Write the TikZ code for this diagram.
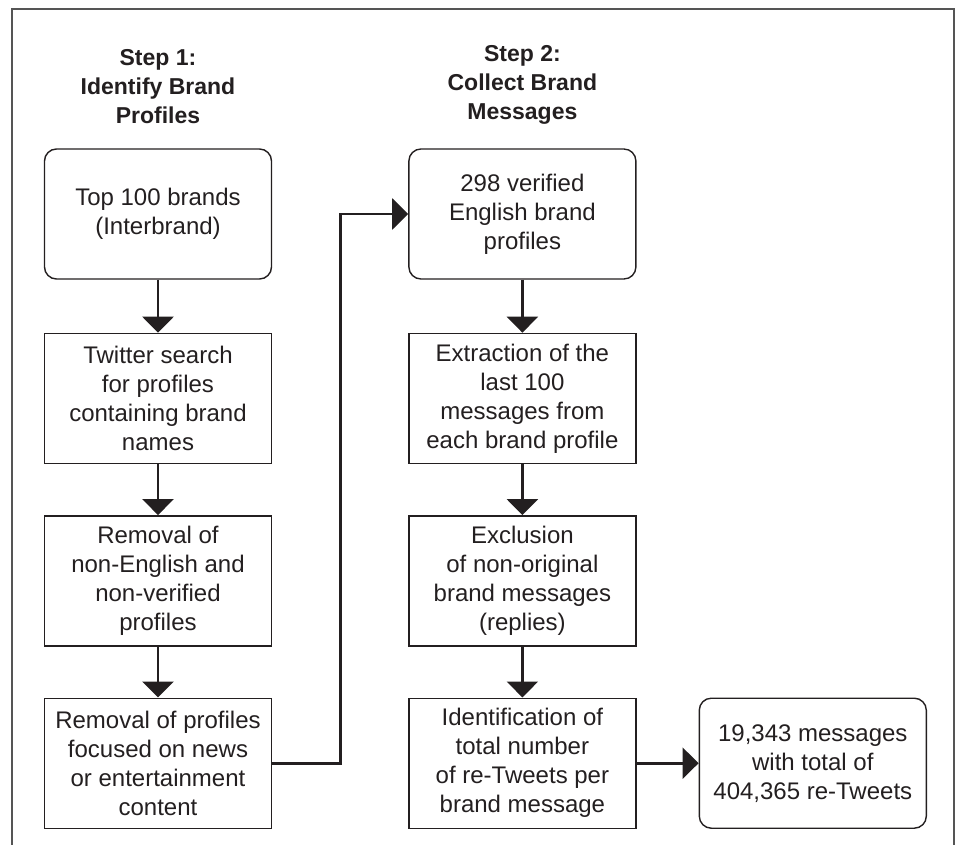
\documentclass[tikz,border=0pt]{standalone}
\usepackage{fontspec}
\setmainfont{Liberation Sans}
\usetikzlibrary{arrows.meta, positioning}
\definecolor{InkDark}{HTML}{231F20}
\definecolor{FrameGray}{HTML}{555555}
\tikzset{
  rstep/.style={draw=InkDark, line width=0.7pt, rounded corners=6pt, align=center,
    minimum width=113.5pt, minimum height=65pt, inner sep=4pt,
    font=\fontsize{12}{14.5}\selectfont, text=InkDark},
  pstep/.style={draw=InkDark, line width=0.7pt, align=center,
    minimum width=113.5pt, minimum height=65pt, inner sep=4pt,
    font=\fontsize{12}{14.5}\selectfont, text=InkDark},
  steptitle/.style={align=center, inner sep=0pt, text=InkDark,
    font=\fontsize{11.5}{14.5}\selectfont\bfseries},
  flow/.style={-{Triangle[length=8pt, width=15.5pt]}, line width=1.3pt, draw=InkDark},
}
\begin{document}
\begin{tikzpicture}[x=0.5pt, y=-0.5pt, node distance=25.5pt]
    \useasboundingbox (0,0) rectangle (959,845);
    \draw[FrameGray, line width=1pt] (12,845) -- (12,9) -- (954,9) -- (954,845);
    % step 1
    \node[rstep] (top) at (158,214) {Top 100 brands\\(Interbrand)};
    \node[pstep, below=26.5pt of top] (search) {Twitter search\\for profiles\\containing brand\\names};
    \node[pstep, below=of search] (lang) {Removal of\\non-English and\\non-verified\\profiles};
    \node[pstep, below=of lang] (news) {Removal of profiles\\focused on news\\or entertainment\\content};
    \node[steptitle, above=12pt of top] (t1) {Step 1:\\Identify Brand\\Profiles};
    % step 2
    \node[rstep, right=68pt of top] (verified) {298 verified\\English brand\\profiles};
    \node[pstep, below=26.5pt of verified] (extract) {Extraction of the\\last 100\\messages from\\each brand profile};
    \node[pstep, below=of extract] (exclude) {Exclusion\\of non-original\\brand messages\\(replies)};
    \node[pstep, below=of exclude] (count) {Identification of\\total number\\of re-Tweets per\\brand message};
    \node[rstep, right=31pt of count] (total) {19,343 messages\\with total of\\404,365 re-Tweets};
    \node[steptitle, above=12pt of verified] (t2) {Step 2:\\Collect Brand\\Messages};
    \draw[flow] (top) -- (search);
    \draw[flow] (search) -- (lang);
    \draw[flow] (lang) -- (news);
    \draw[flow] (news.east) -- ++(34pt,0) |- (verified.west);
    \draw[flow] (verified) -- (extract);
    \draw[flow] (extract) -- (exclude);
    \draw[flow] (exclude) -- (count);
    \draw[flow] (count) -- (total);
  \end{tikzpicture}
\end{document}
